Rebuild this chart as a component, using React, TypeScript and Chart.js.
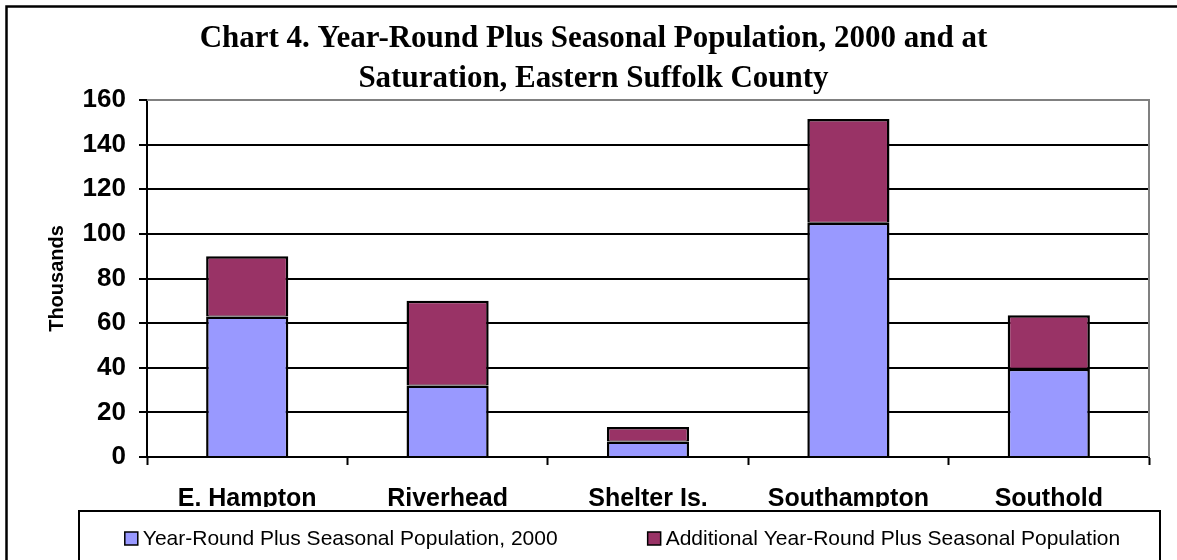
import { useEffect, useRef } from "react";
import { Chart, registerables } from "chart.js";

Chart.register(...registerables);

// Towns of eastern Suffolk County (x categories)
const towns = ["E. Hampton", "Riverhead", "Shelter Is.", "Southampton", "Southold"];

// Thousands of people
const population2000 = [63, 32, 7, 105, 39.5];
const additionalAtSaturation = [27, 38, 6.5, 46.5, 24];

const seriesNames = [
  "Year-Round Plus Seasonal Population, 2000",
  "Additional Year-Round Plus Seasonal Population",
];
const seriesColors = ["#9999FF", "#993366"];

const titleLines = [
  "Chart 4. Year-Round Plus Seasonal Population, 2000 and at",
  "Saturation, Eastern Suffolk County",
];
const yAxisTitle = "Thousands";
const yMin = 0;
const yMax = 160;
const yStep = 20;

const SANS = '"Liberation Sans", Arial, sans-serif';
const SERIF = '"Liberation Serif", "Times New Roman", serif';

// Outer frame, plot-area border and the boxed legend under the axis
const decorPlugin = {
  id: "decor",
  beforeDatasetsDraw(chart: any) {
    const { ctx, chartArea: a } = chart;
    ctx.save();
    ctx.strokeStyle = "#808080";
    ctx.lineWidth = 2;
    ctx.beginPath();
    ctx.moveTo(a.left, a.top);
    ctx.lineTo(a.right, a.top);
    ctx.lineTo(a.right, a.bottom);
    ctx.stroke();
    ctx.restore();
  },
  afterDraw(chart: any) {
    const { ctx } = chart;
    ctx.save();
    // outer frame
    ctx.strokeStyle = "#000";
    ctx.lineWidth = 2.5;
    ctx.strokeRect(6.5, 6.5, 1220, 620);

    // legend box
    const box = { left: 79, right: 1160, top: 511, bottom: 566 };
    ctx.lineWidth = 2;
    ctx.strokeRect(box.left, box.top, box.right - box.left, box.bottom - box.top);

    ctx.font = `21px ${SANS}`;
    ctx.textBaseline = "alphabetic";
    ctx.textAlign = "left";
    const sq = 13;
    const gapText = 5;
    const gapItems = 90;
    const datasets = chart.data.datasets;
    const widths = datasets.map((d: any) => sq + gapText + ctx.measureText(d.label).width);
    const total = widths.reduce((s: number, w: number) => s + w, 0) + gapItems * (datasets.length - 1);
    let x = (box.left + box.right) / 2 - total / 2 + 3;
    const baseline = 545;
    datasets.forEach((d: any, i: number) => {
      ctx.fillStyle = d.backgroundColor;
      ctx.fillRect(x, baseline - 13, sq, sq);
      ctx.strokeStyle = "#000";
      ctx.lineWidth = 1.5;
      ctx.strokeRect(x, baseline - 13, sq, sq);
      ctx.fillStyle = "#000";
      ctx.fillText(d.label, x + sq + gapText, baseline);
      x += widths[i] + gapItems;
    });
    ctx.restore();
  },
};

export default function App() {
  const canvasRef = useRef<HTMLCanvasElement | null>(null);

  useEffect(() => {
    const canvas = canvasRef.current;
    if (!canvas) return;
    const chart = new Chart(canvas, {
      type: "bar",
      data: {
        labels: towns,
        datasets: [
          {
            label: seriesNames[0],
            data: population2000,
            backgroundColor: seriesColors[0],
            borderColor: "#000",
            borderWidth: 2.5,
            categoryPercentage: 1,
            barPercentage: 0.41,
          },
          {
            label: seriesNames[1],
            data: additionalAtSaturation,
            backgroundColor: seriesColors[1],
            borderColor: "#000",
            borderSkipped: false,
            borderWidth: { top: 2.5, left: 2.5, right: 2.5, bottom: 1 },
            categoryPercentage: 1,
            barPercentage: 0.41,
          },
        ],
      },
      options: {
        responsive: false,
        animation: false,
        devicePixelRatio: 1,
        layout: { padding: { left: 38, right: 28, top: 0, bottom: 53 } },
        plugins: {
          legend: { display: false },
          tooltip: { enabled: false },
          title: {
            display: true,
            text: titleLines,
            color: "#000",
            font: { family: SERIF, size: 31, weight: "bold", lineHeight: 40 / 31 },
            padding: { top: 19, bottom: 1 },
          },
        },
        scales: {
          x: {
            stacked: true,
            offset: true,
            grid: {
              display: true,
              offset: true,
              drawOnChartArea: false,
              drawTicks: true,
              tickLength: 8,
              tickColor: "#000",
              tickWidth: 2,
            },
            border: { color: "#000", width: 2 },
            ticks: {
              color: "#000",
              padding: 19,
              font: { family: SANS, size: 25, weight: "bold" },
              maxRotation: 0,
              autoSkip: false,
            },
            afterFit: (scale: any) => {
              scale.height = 50;
            },
          },
          y: {
            stacked: true,
            min: yMin,
            max: yMax,
            grid: {
              color: (c: any) => (c.tick && c.tick.value === yMax ? "#808080" : "#000"),
              lineWidth: 2,
              drawTicks: true,
              tickLength: 8,
              tickColor: "#000",
              tickWidth: 2,
            },
            border: { color: "#000", width: 2 },
            ticks: {
              stepSize: yStep,
              color: "#000",
              padding: 13,
              font: { family: SANS, size: 26, weight: "bold" },
            },
            title: {
              display: true,
              text: yAxisTitle,
              color: "#000",
              font: { family: SANS, size: 20, weight: "bold", lineHeight: 1.2 },
              padding: { top: 7, bottom: 0 },
            },
            afterFit: (scale: any) => {
              scale.width = 109;
            },
          },
        },
      },
      plugins: [decorPlugin],
    });
    return () => chart.destroy();
  }, []);

  return (
    <div style={{ position: "absolute", left: 0, top: 0, width: 1177, height: 560, background: "#fff" }}>
      <canvas ref={canvasRef} width={1177} height={560} style={{ display: "block" }} />
    </div>
  );
}
